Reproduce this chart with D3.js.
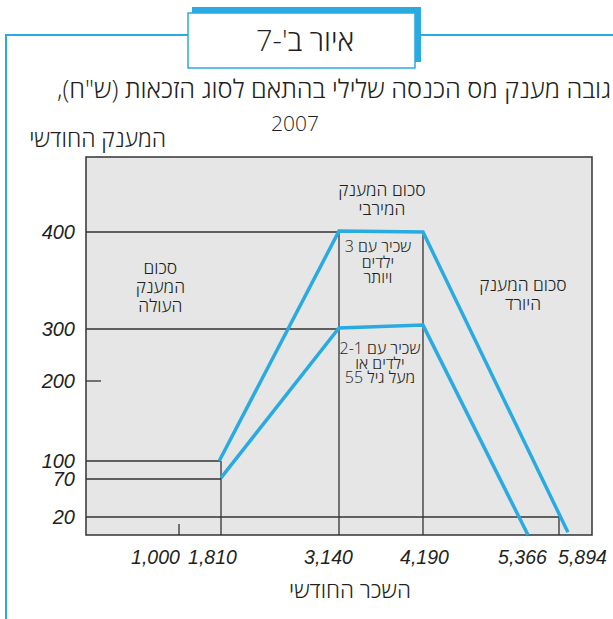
<!DOCTYPE html>
<html>
<head>
<meta charset="utf-8">
<script src="https://cdn.jsdelivr.net/npm/d3@7"></script>
<style>
  body {margin: 0; background: #fff;}
  text {font-family: 'Liberation Sans', Arial, 'DejaVu Sans', sans-serif; fill: #231f20;}
  text.he {font-family: 'Open Sans', 'Liberation Sans', 'DejaVu Sans', sans-serif; font-weight: 300;}
</style>
</head>
<body>
<script>
// schematic axes: the breakpoints are spaced by hand in the original, not to scale
var xBreaks = [0, 1000, 1810, 3140, 4190, 5366, 5894, 6200]
var yBreaks = [0, 20, 70, 100, 200, 300, 400, 480]

var xTicks = [1000, 1810, 3140, 4190, 5366, 5894]
var yTicks = [20, 70, 100, 200, 300, 400]

// monthly grant (NIS) by monthly wage
var grant3kids = [[1775, 100], [3140, 401], [4190, 400], [5977, 3]]
var grant12kids = [[1810, 72], [3140, 301], [4190, 304], [5366, 0]]

// guide lines: [grant, wage where it stops] and [wage, grant where it starts]
var hGuides = [[400, 3140], [300, 3140], [100, 1810], [70, 1810], [20, 5894]]
var vGuides = [[1810, 100], [3140, 400], [4190, 400], [5894, 20]]

var notes = [
  {kind: 'zone', lines: ['סכום', 'המענק', 'העולה'], wage: 800, grant: 363},
  {kind: 'zone', lines: ['סכום המענק', 'המירבי'], wage: 3677, grant: 445},
  {kind: 'zone', lines: ['סכום המענק', 'היורד'], wage: 5310, grant: 345},
  {kind: 'group', lines: ['שכיר עם 3', 'ילדים', 'ויותר'], wage: 3627, grant: 385},
  {kind: 'group2', lines: ['שכיר עם 2-1', 'ילדים או', 'מעל גיל 55'], wage: 3652, grant: 262},
]

var figLabel = "איור ב'-7"
var title = 'גובה מענק מס הכנסה שלילי בהתאם לסוג הזכאות (ש"ח),'
var titleYear = '2007'
var yTitle = 'המענק החודשי'
var xTitle = 'השכר החודשי'

var blue = '#29abe2', ink = '#333'

var svg = d3.select('body').append('svg').attr('width', 613).attr('height', 619)

var x = d3.scaleLinear().domain(xBreaks).range([86, 179, 221, 339, 423, 528, 559, 592])
var y = d3.scaleLinear().domain(yBreaks).range([535, 517, 479, 461, 381, 329, 232, 157])

// page frame and figure tab
svg.append('path').attr('d', 'M6,619V35H613')
  .attr('fill', 'none').attr('stroke', blue).attr('stroke-width', 2)
svg.append('rect').attr('x', 192).attr('y', 7).attr('width', 229).attr('height', 55).attr('fill', blue)
svg.append('rect').attr('x', 188).attr('y', 13).attr('width', 227).attr('height', 55)
  .attr('fill', '#fff').attr('stroke', blue).attr('stroke-width', 1.5)
svg.append('text').text(figLabel).attr('class', 'he')
  .attr('x', 305).attr('y', 51).attr('direction', 'rtl').attr('text-anchor', 'middle').attr('font-size', 29)

svg.append('text').text(title).attr('class', 'he')
  .attr('x', 611).attr('y', 98).attr('direction', 'rtl').attr('text-anchor', 'start').attr('font-size', 25.4)
svg.append('text').text(titleYear).attr('class', 'he')
  .attr('x', 295).attr('y', 131).attr('text-anchor', 'middle').attr('font-size', 21)
svg.append('text').text(yTitle).attr('class', 'he')
  .attr('x', 166).attr('y', 147).attr('direction', 'rtl').attr('text-anchor', 'start').attr('font-size', 23)
svg.append('text').text(xTitle).attr('class', 'he')
  .attr('x', 350).attr('y', 598).attr('direction', 'rtl').attr('text-anchor', 'middle').attr('font-size', 22.5)

// plot area
svg.append('rect')
  .attr('x', x(0)).attr('y', y(480)).attr('width', x(6200) - x(0)).attr('height', y(0) - y(480))
  .attr('fill', '#e6e6e6').attr('stroke', ink).attr('stroke-width', 1.5)

svg.append('g').selectAll('line').data(hGuides).join('line')
  .attr('x1', x(0)).attr('x2', d => x(d[1]))
  .attr('y1', d => y(d[0])).attr('y2', d => y(d[0]))
  .attr('stroke', ink).attr('stroke-width', 1.3)

svg.append('g').selectAll('line').data(vGuides).join('line')
  .attr('x1', d => x(d[0])).attr('x2', d => x(d[0]))
  .attr('y1', d => y(d[1])).attr('y2', y(0))
  .attr('stroke', ink).attr('stroke-width', 1.3)

// the two short ticks
svg.append('line').attr('x1', x(0)).attr('x2', x(0) + 15).attr('y1', y(200)).attr('y2', y(200))
  .attr('stroke', ink).attr('stroke-width', 1.3)
svg.append('line').attr('x1', x(1000)).attr('x2', x(1000)).attr('y1', y(0)).attr('y2', y(0) - 11)
  .attr('stroke', ink).attr('stroke-width', 1.3)

// axes
var yAxis = svg.append('g').attr('transform', `translate(${x(0)},0)`)
  .call(d3.axisLeft(y).tickValues(yTicks).tickSize(0).tickPadding(11))
  .attr('font-size', 20).attr('font-style', 'italic')
yAxis.select('.domain').remove()

var xNudge = {1000: -24, 1810: -9, 3140: -11, 4190: 1, 5366: -6, 5894: 23}
var xAxis = svg.append('g').attr('transform', `translate(0,${y(0)})`)
  .call(d3.axisBottom(x).tickValues(xTicks).tickSize(0).tickPadding(15).tickFormat(d3.format(',')))
  .attr('font-size', 19.5).attr('font-style', 'italic')
xAxis.select('.domain').remove()
xAxis.selectAll('text').attr('dx', d => xNudge[d])

// grant lines
var line = d3.line().x(d => x(d[0])).y(d => y(d[1]))
svg.append('g').selectAll('path').data([grant3kids, grant12kids]).join('path')
  .attr('d', line)
  .attr('fill', 'none').attr('stroke', blue).attr('stroke-width', 3.5)

// notes
var noteStyle = {zone: {size: 17.5, lh: 19}, group: {size: 16, lh: 15.5}, group2: {size: 16, lh: 14.5}}
notes.forEach(n => {
  var st = noteStyle[n.kind]
  svg.append('g').selectAll('text').data(n.lines).join('text')
    .text(d => d).attr('class', 'he')
    .attr('x', x(n.wage))
    .attr('y', (d, i) => y(n.grant) + i * st.lh)
    .attr('dy', '0.35em')
    .attr('direction', 'rtl').attr('text-anchor', 'middle')
    .attr('font-size', st.size)
})
</script>
</body>
</html>
